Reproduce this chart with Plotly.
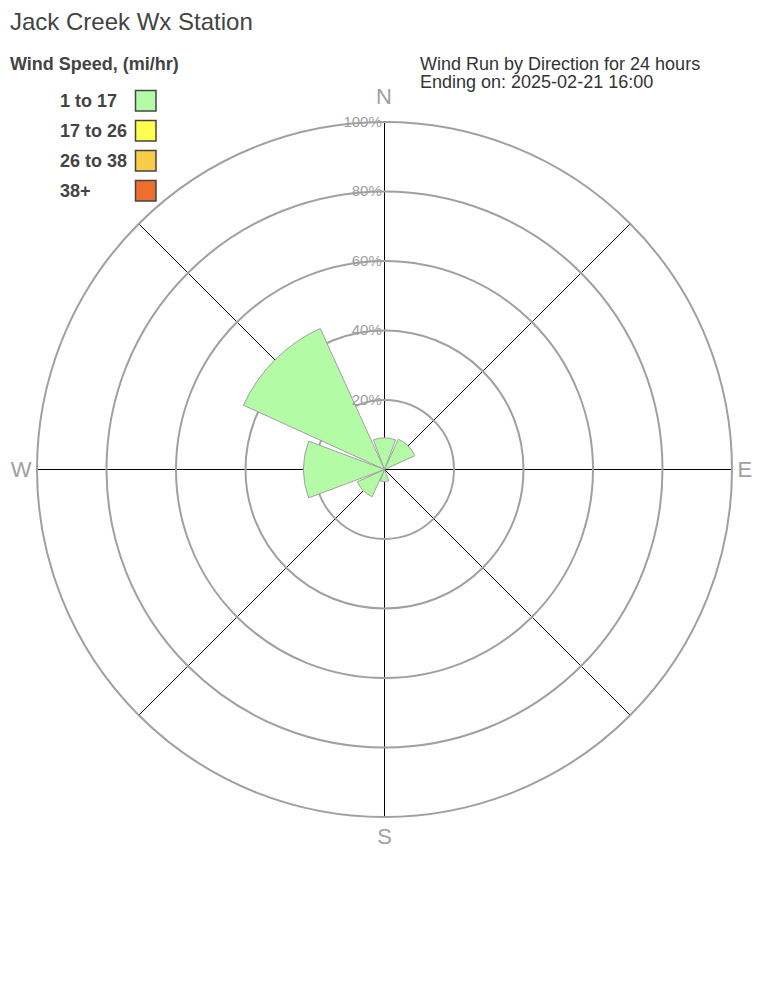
import plotly.graph_objects as go

directions = ["N", "NE", "E", "SE", "S", "SW", "W", "NW"]
dir_angles = [0, 45, 90, 135, 180, 225, 270, 315]
speed_bins = ["1 to 17", "17 to 26", "26 to 38", "38+"]
bin_colors = ["#b3fba5", "#ffff4d", "#f7cc48", "#ee6e2f"]
# percent of wind run per direction for each speed bin
run_1_17 = [9.1, 9.6, 0, 0, 3.5, 8.6, 23.3, 44.6]
run_17_26 = [0, 0, 0, 0, 0, 0, 0, 0]
run_26_38 = [0, 0, 0, 0, 0, 0, 0, 0]
run_38p = [0, 0, 0, 0, 0, 0, 0, 0]
series = [run_1_17, run_17_26, run_26_38, run_38p]
radial_ticks = [20, 40, 60, 80, 100]
radial_labels = ["20%", "40%", "60%", "80%", "100%"]

W, H = 768, 1008
OFF = 8  # page body margin
FONT = "Liberation Sans, Arial, sans-serif"


def fx(x):
    return (x - OFF) / W


def fy(y):
    return 1 - (y - OFF) / H


fig = go.Figure()
for name, vals, col in zip(speed_bins, series, bin_colors):
    fig.add_trace(go.Barpolar(
        r=vals, theta=dir_angles, width=[41] * len(dir_angles), name=name,
        marker=dict(color=col, line=dict(color="#a0a0a0", width=1)),
        showlegend=False, hoverinfo="skip",
    ))

cx, cy, R = 384.5, 469.5, 347.5
fig.update_layout(
    width=W, height=H,
    margin=dict(l=0, r=0, t=0, b=0),
    paper_bgcolor="white", plot_bgcolor="white",
    font=dict(family=FONT, color="#444"),
    barmode="stack",
    polar=dict(
        domain=dict(x=[fx(cx - R), fx(cx + R)], y=[fy(cy + R), fy(cy - R)]),
        bgcolor="white",
        angularaxis=dict(
            rotation=90, direction="clockwise",
            tickmode="array", tickvals=[0, 45, 90, 135, 180, 225, 270, 315],
            ticktext=["", "", "E", "", "S", "", "W", ""],
            tickfont=dict(size=22, color="#a0a0a0", family=FONT),
            ticks="", showgrid=True, gridcolor="black", gridwidth=1,
            showline=True, linecolor="#a0a0a0", linewidth=2,
        ),
        radialaxis=dict(
            range=[0, 100], tickmode="array", tickvals=radial_ticks, ticktext=radial_labels,
            angle=90, tickangle=90, side="counterclockwise",
            tickfont=dict(size=15, color="#a0a0a0", family=FONT),
            showline=False, ticks="", showgrid=True, gridcolor="#a0a0a0", gridwidth=1.6,
        ),
    ),
)

ann = [
    dict(text="Jack Creek Wx Station", x=10, y=22, font=dict(size=24, color="#444"), xanchor="left"),
    dict(text="<b>Wind Speed, (mi/hr)</b>", x=10, y=64, font=dict(size=18, color="#444"), xanchor="left"),
    dict(text="Wind Run by Direction for 24 hours", x=420, y=64, font=dict(size=18, color="#333"), xanchor="left"),
    dict(text="Ending on: 2025-02-21 16:00", x=420, y=82, font=dict(size=18, color="#333"), xanchor="left"),
    dict(text="N", x=384, y=96, font=dict(size=22, color="#a0a0a0"), xanchor="center"),
]
shapes = []
for i, (name, col) in enumerate(zip(speed_bins, bin_colors)):
    yc = 100.5 + 30 * i
    ann.append(dict(text="<b>%s</b>" % name, x=60, y=yc, font=dict(size=18, color="#444"), xanchor="left"))
    shapes.append(dict(type="rect", xref="paper", yref="paper",
                       x0=fx(135.5), x1=fx(156), y0=fy(yc - 10), y1=fy(yc + 10.5),
                       fillcolor=col, line=dict(color="#444", width=1.5)))
for a in ann:
    shift = -2 if a["xanchor"] == "left" else 0
    a.update(xref="paper", yref="paper", x=fx(a["x"] + shift), y=fy(a["y"]),
             yanchor="middle", showarrow=False)
    a["font"]["family"] = FONT
fig.update_layout(annotations=ann, shapes=shapes)

fig.write_html("out.html")
